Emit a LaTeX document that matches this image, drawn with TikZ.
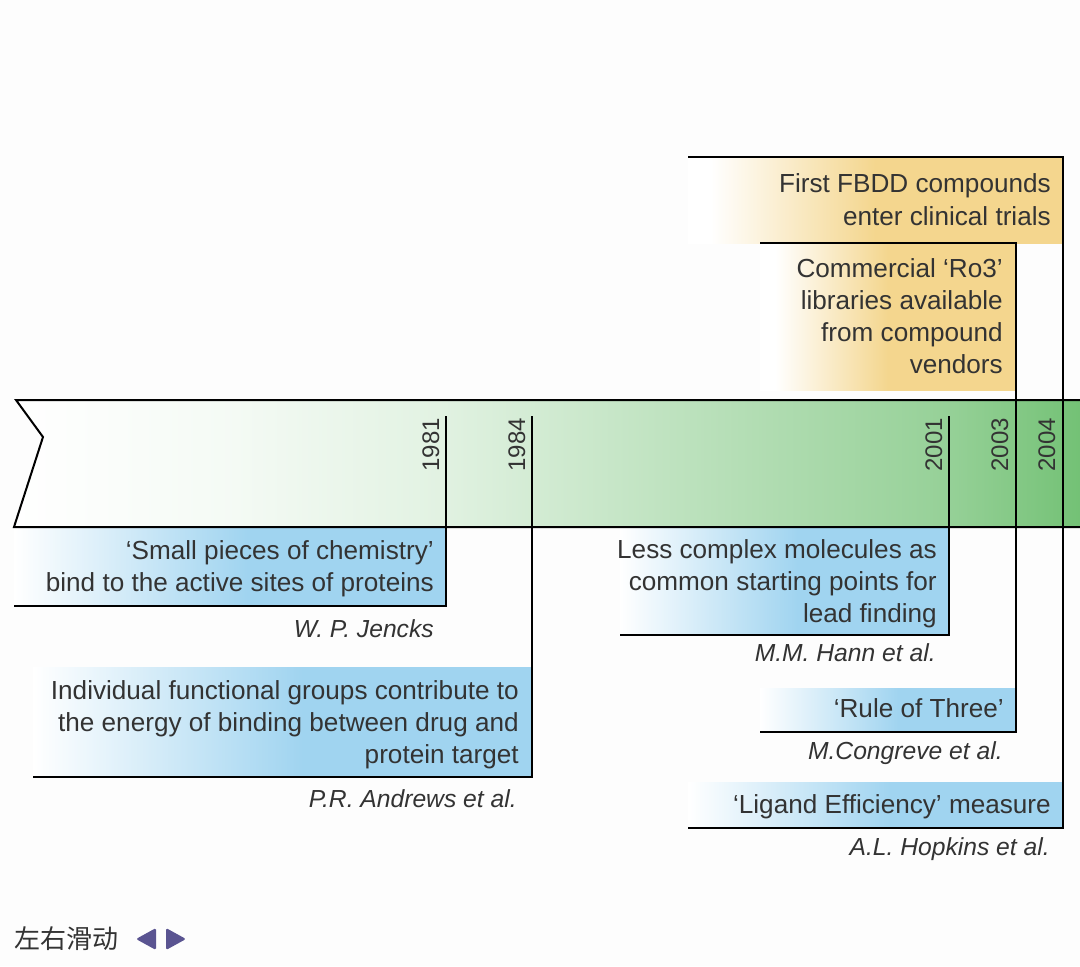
\documentclass[tikz,border=0pt]{standalone}
\usepackage{fontspec}
\setmainfont{Liberation Sans}
\newfontfamily\cjkfont{Noto Sans CJK SC}
\definecolor{bandgreen}{RGB}{108,190,110}
\definecolor{boxblue}{RGB}{160,212,240}
\definecolor{boxyellow}{RGB}{244,214,142}
\definecolor{textgray}{RGB}{51,51,51}
\definecolor{bgcol}{RGB}{253,253,253}
\definecolor{navpurple}{RGB}{90,84,145}
\pgfdeclarehorizontalshading{bluefade}{100bp}{color(0bp)=(white); color(25bp)=(white); color(52bp)=(boxblue); color(100bp)=(boxblue)}
\pgfdeclarehorizontalshading{yellowfade}{100bp}{color(0bp)=(white); color(28bp)=(white); color(50bp)=(boxyellow); color(100bp)=(boxyellow)}
\pgfdeclarehorizontalshading{greenfade}{100bp}{color(0bp)=(white); color(25bp)=(white); color(35bp)=(bandgreen!7!white); color(45bp)=(bandgreen!20!white); color(52.5bp)=(bandgreen!37!white); color(69bp)=(bandgreen!72!white); color(75bp)=(bandgreen!95!white); color(100bp)=(bandgreen!95!white)}
\begin{document}
\begin{tikzpicture}[x=0.75pt,y=-0.75pt,
  txt/.style={font=\fontsize{19.6}{24}\selectfont, text=textgray, inner sep=0pt, anchor=base east},
  auth/.style={txt, font=\fontsize{18.5}{24}\selectfont\itshape},
  yr/.style={txt, font=\fontsize{18}{24}\selectfont, rotate=90},
  rule/.style={line width=1.5pt, draw=black, line join=miter}]
\useasboundingbox (0,0) rectangle (1080,966);
\fill[bgcol] (0,0) rectangle (1080,966);

% band
\shade[shading=greenfade] (16,400) -- (1080,400) -- (1080,527) -- (14,527) -- (43,437) -- cycle;

% box fills
\shade[shading=yellowfade] (688,157) rectangle (1063,243);
\shade[shading=yellowfade] (760,243) rectangle (1016,390);
\shade[shading=bluefade] (14,527) rectangle (446,606);
\shade[shading=bluefade] (33,667) rectangle (532,777);
\shade[shading=bluefade] (620,527) rectangle (949,635);
\shade[shading=bluefade] (760,688) rectangle (1016,732);
\shade[shading=bluefade] (688,782) rectangle (1063,828);

% band outline
\coordinate (bandTL) at (16,400);
\coordinate (bandTR) at (1080,400);
\coordinate (notch) at (43,437);
\coordinate (bandBL) at (14,527);
\coordinate (bandBR) at (1080,527);
\draw[rule] (bandTR) -- (bandTL) -- (notch) -- (bandBL) -- (bandBR);

% year lines
\coordinate (t81) at (446,416); \coordinate (b81) at (446,606); \coordinate (e81) at (14,606);
\coordinate (t84) at (532,416); \coordinate (b84) at (532,777); \coordinate (e84) at (33,777);
\coordinate (t01) at (949,416); \coordinate (b01) at (949,635); \coordinate (e01) at (620,635);
\coordinate (s03) at (760,243); \coordinate (t03) at (1016,243); \coordinate (b03) at (1016,732); \coordinate (e03) at (760,732);
\coordinate (s04) at (688,157); \coordinate (t04) at (1063,157); \coordinate (b04) at (1063,828); \coordinate (e04) at (688,828);
\draw[rule] (t81) -- (b81) -- (e81);
\draw[rule] (t84) -- (b84) -- (e84);
\draw[rule] (t01) -- (b01) -- (e01);
\draw[rule] (s03) -- (t03) -- (b03) -- (e03);
\draw[rule] (s04) -- (t04) -- (b04) -- (e04);

% years
\node[yr] (y81) at (439,418) {1981};
\node[yr] (y84) at (525,418) {1984};
\node[yr] (y01) at (942,418) {2001};
\node[yr] (y03) at (1008,418) {2003};
\node[yr] (y04) at (1055,418) {2004};

% top boxes
\node[txt] (f1) at (1051,193) {First FBDD compounds};
\node[txt] (f2) at (1051,225) {enter clinical trials};
\node[txt] (r1) at (1003,277) {Commercial ‘Ro3’};
\node[txt] (r2) at (1003,309) {libraries available};
\node[txt] (r3) at (1003,341) {from compound};
\node[txt] (r4) at (1003,373) {vendors};

% bottom boxes
\node[txt] (j1) at (434,559) {‘Small pieces of chemistry’};
\node[txt] (j2) at (434,591) {bind to the active sites of proteins};
\node[auth] (ja) at (434,637) {W. P. Jencks};

\node[txt] (a1) at (519,699) {Individual functional groups contribute to};
\node[txt] (a2) at (519,731) {the energy of binding between drug and};
\node[txt] (a3) at (519,763) {protein target};
\node[auth] (aa) at (517,807) {P.R. Andrews et al.};

\node[txt] (h1) at (937,558) {Less complex molecules as};
\node[txt] (h2) at (937,590) {common starting points for};
\node[txt] (h3) at (937,622) {lead finding};
\node[auth] (ha) at (936,661) {M.M. Hann et al.};

\node[txt] (c1) at (1004,717) {‘Rule of Three’};
\node[auth] (ca) at (1003,759) {M.Congreve et al.};

\node[txt] (l1) at (1051,813) {‘Ligand Efficiency’ measure};
\node[auth] (la) at (1050,855) {A.L. Hopkins et al.};

% navigation
\node[font=\cjkfont\fontsize{19.5}{22}\selectfont, text=textgray, anchor=base west, inner sep=0pt] (nav) at (14,948) {左右滑动};
\fill[navpurple, rounded corners=1.2pt] (156,928) -- (136,939) -- (156,950) -- cycle;
\fill[navpurple, rounded corners=1.2pt] (166,928) -- (186,939) -- (166,950) -- cycle;
\end{tikzpicture}
\end{document}
